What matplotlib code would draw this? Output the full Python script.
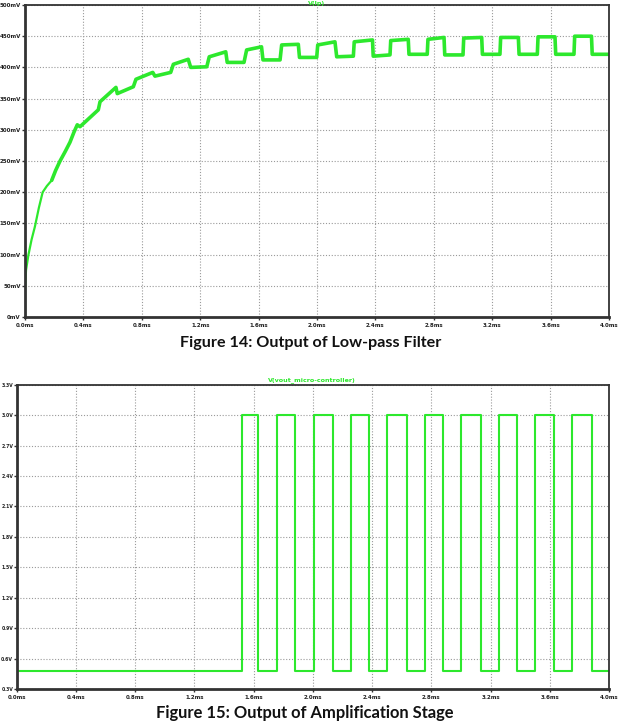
import matplotlib
matplotlib.use("Agg")
import matplotlib.pyplot as plt

# ---- Data: low-pass filter output (ms, mV) ----
lp_t = [0.0, 0.0, 0.007, 0.023, 0.045, 0.068, 0.095, 0.121, 0.15, 0.183, 0.21, 0.24,
        0.275, 0.308, 0.335, 0.358, 0.377,
        0.502, 0.514, 0.623, 0.632, 0.742, 0.76, 0.875, 0.89, 0.998, 1.016, 1.118, 1.135,
        1.245, 1.262, 1.375, 1.385, 1.50, 1.518, 1.62, 1.63, 1.747, 1.758, 1.872, 1.88,
        1.998, 2.005, 2.123, 2.135, 2.249, 2.255, 2.38, 2.385, 2.50, 2.505, 2.625, 2.63,
        2.755, 2.76, 2.87, 2.875, 3.0, 3.005, 3.128, 3.133, 3.253, 3.258, 3.379, 3.384,
        3.509, 3.514, 3.63, 3.635, 3.76, 3.765, 3.88, 3.885, 4.0]
lp_mv = [0, 43, 75, 99, 124, 145, 175, 200, 210, 219, 235, 250,
         265, 280, 296, 308, 305,
         332, 345, 368, 358, 369, 381, 392, 386, 392, 405, 413, 400,
         401, 417, 425, 408, 408, 428, 433, 412, 412, 436, 437, 416,
         416, 436, 441, 417, 418, 441, 444, 418, 420, 443, 445, 421,
         421, 445, 448, 420, 420, 447, 448, 421, 421, 448, 448, 421,
         421, 449, 449, 421, 421, 450, 450, 421, 421]

# ---- Data: amplification stage output (ms, V) ----
amp_t = [0.0, 1.522, 1.522, 1.631, 1.631, 1.758, 1.758, 1.879, 1.879, 2.005, 2.005,
         2.134, 2.134, 2.255, 2.255, 2.381, 2.381, 2.502, 2.502, 2.634, 2.634, 2.755, 2.755,
         2.88, 2.88, 3.002, 3.002, 3.133, 3.133, 3.255, 3.255, 3.38, 3.38, 3.502, 3.502,
         3.628, 3.628, 3.752, 3.752, 3.883, 3.883, 4.0]
amp_v = [0.48, 0.48, 3.0, 3.0, 0.48, 0.48, 3.0, 3.0, 0.48, 0.48, 3.0,
         3.0, 0.48, 0.48, 3.0, 3.0, 0.48, 0.48, 3.0, 3.0, 0.48, 0.48, 3.0,
         3.0, 0.48, 0.48, 3.0, 3.0, 0.48, 0.48, 3.0, 3.0, 0.48, 0.48, 3.0,
         3.0, 0.48, 0.48, 3.0, 3.0, 0.48, 0.48]

x_ticks = [0.0, 0.4, 0.8, 1.2, 1.6, 2.0, 2.4, 2.8, 3.2, 3.6, 4.0]
x_labels = ["0.0ms", "0.4ms", "0.8ms", "1.2ms", "1.6ms", "2.0ms", "2.4ms",
            "2.8ms", "3.2ms", "3.6ms", "4.0ms"]
lp_yticks = [0, 50, 100, 150, 200, 250, 300, 350, 400, 450, 500]
lp_ylabels = ["0mV", "50mV", "100mV", "150mV", "200mV", "250mV", "300mV",
              "350mV", "400mV", "450mV", "500mV"]
amp_yticks = [0.3, 0.6, 0.9, 1.2, 1.5, 1.8, 2.1, 2.4, 2.7, 3.0, 3.3]
amp_ylabels = ["0.3V", "0.6V", "0.9V", "1.2V", "1.5V", "1.8V", "2.1V", "2.4V",
               "2.7V", "3.0V", "3.3V"]

GREEN = "#2de82d"
W, H = 621, 728
fig = plt.figure(figsize=(W / 100, H / 100), dpi=100)
fig.patch.set_facecolor("white")


def style(ax, xt, xl, yt, yl, xlim, ylim, ysize, ylen):
    ax.set_xlim(*xlim)
    ax.set_ylim(*ylim)
    ax.set_xticks(xt)
    ax.set_xticklabels(xl)
    ax.set_yticks(yt)
    ax.set_yticklabels(yl)
    ax.grid(True, color="#9a9a9a", linestyle=(0, (1, 1.6)), linewidth=0.8)
    ax.set_axisbelow(True)
    for s in ax.spines.values():
        s.set_color("#333333")
        s.set_linewidth(1.3)
    ax.spines["left"].set_linewidth(2.0)
    ax.spines["bottom"].set_linewidth(2.0)
    ax.tick_params(direction="out", width=1, color="#333333", labelcolor="#222222")
    ax.tick_params(axis="x", length=2.5, labelsize=4.0, pad=1.5)
    ax.tick_params(axis="y", length=ylen, labelsize=ysize, pad=0.5)
    for lab in ax.get_xticklabels() + ax.get_yticklabels():
        lab.set_fontweight("bold")


ax1 = fig.add_axes([25 / W, 1 - 317 / H, 584 / W, 312 / H])
n_thin = 9
ax1.plot(lp_t[:n_thin + 1], lp_mv[:n_thin + 1], color=GREEN, linewidth=1.6,
         solid_joinstyle="round", solid_capstyle="round")
ax1.plot(lp_t[n_thin:], lp_mv[n_thin:], color=GREEN, linewidth=2.6,
         solid_joinstyle="round", solid_capstyle="round")
style(ax1, x_ticks, x_labels, lp_yticks, lp_ylabels, (0, 4.0), (0, 500), 4.0, 2.5)

ax2 = fig.add_axes([16.7 / W, 1 - 689 / H, 592.3 / W, 304.3 / H])
ax2.plot(amp_t, amp_v, color=GREEN, linewidth=1.5)
style(ax2, x_ticks, x_labels, amp_yticks, amp_ylabels, (0, 4.0), (0.3, 3.3), 3.3, 2.0)

fig.text(317 / W, 1 - 3 / H, "V(lp)", color=GREEN, fontsize=4.6, fontweight="bold",
         ha="center", va="center")
fig.text(312 / W, 1 - 380 / H, "V(vout_micro-controller)", color=GREEN, fontsize=4.6,
         fontweight="bold", ha="center", va="center")

fig.text(311 / W, 1 - 343 / H, "Figure 14: Output of Low-pass Filter",
         family="Lato", fontweight="bold", fontsize=11.6, ha="center", va="center",
         color="#111111")
fig.text(305 / W, 1 - 713 / H, "Figure 15: Output of Amplification Stage",
         family="Lato", fontweight="bold", fontsize=11.9, ha="center", va="center",
         color="#111111")

fig.savefig("out.png", dpi=100)
